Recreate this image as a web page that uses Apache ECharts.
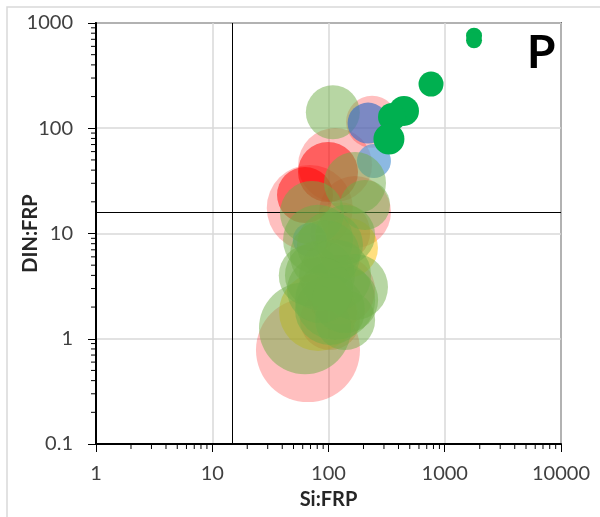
<!DOCTYPE html>
<html><head><meta charset="utf-8">
<script src="https://cdn.jsdelivr.net/npm/echarts@6/dist/echarts.min.js"></script>
<style>html,body{margin:0;padding:0;background:#fff}#c{width:600px;height:517px}</style>
</head><body><div id="c"></div>
<script>
// ---- data (Si:FRP, DIN:FRP, bubble value) ----
const xRange = [1, 10000];
const yRange = [0.1, 1000];
const refSi = 15;   // vertical reference line (Si:FRP)
const refN = 16;    // horizontal reference line (DIN:FRP)
const minorMult = [2, 3, 4, 5, 6, 7, 8, 9];

const pinkX = [237, 114, 69, 169, 66.6, 126];
const pinkY = [115, 44.8, 17.5, 16.0, 0.78, 2.9];
const pinkV = [26, 37, 43, 36, 52, 35];

const redX = [99, 62.8];
const redY = [38.4, 23.2];
const redV = [30, 28];

const yellowX = [147, 81.3];
const yellowY = [7.3, 1.8];
const yellowV = [30, 39];

const orangeX = [126, 103];
const orangeY = [10.3, 1.51];
const orangeV = [30, 30];

const blueX = [219];
const blueY = [112];
const blueV = [20.5];

const lblueX = [246, 69];
const lblueY = [48.9, 8.7];
const lblueV = [17, 17];

const lgreenX = [109, 169, 72.1, 206, 81.3, 139, 93.3, 69, 84.5, 169, 114, 103, 139, 62.8, 103, 114, 139, 84.5];
const lgreenY = [142, 30.2, 15.7, 18.7, 8.7, 9.7, 6.25, 4.0, 4.0, 3.1, 2.33, 1.88, 1.51, 1.26, 7.8, 4.0, 2.33, 2.9];
const lgreenV = [27, 31, 32, 25, 35, 30, 35, 31, 35, 33, 40, 35, 30, 46, 33, 36, 33, 33];

const greenX = [1786, 1786, 762, 446, 352, 331];
const greenY = [757, 685, 263, 146, 128, 79];
const greenV = [8, 8, 12.5, 15, 14, 15.5];

const BUBBLE_SCALE = 2;
function pts(xs, ys, vs) { return xs.map((x, i) => [x, ys[i], vs[i]]); }
function bubble(name, xs, ys, vs, color, opacity, z) {
  return { name, type: 'scatter', data: pts(xs, ys, vs), symbolSize: d => d[2] * BUBBLE_SCALE,
    itemStyle: { color, opacity }, z, silent: true };
}

const chart = echarts.init(document.getElementById('c'), null, { renderer: 'canvas' });
const FONT = 'Lato';
const axisCommon = {
  type: 'log', logBase: 10,
  axisLine: { show: true, lineStyle: { color: '#000', width: 2 } },
  axisTick: { show: true, length: 8, lineStyle: { color: '#000', width: 1 } },
  splitLine: { show: true, lineStyle: { color: '#D9D9D9', width: 1.5 } },
  axisLabel: { fontFamily: FONT, fontSize: 20, color: '#404040', formatter: v => String(v) },
  nameLocation: 'middle', nameMoveOverlap: false,
  nameTextStyle: { fontFamily: FONT, fontSize: 20, fontWeight: 'bold', color: '#262626' }
};
chart.setOption({
  animation: false,
  grid: { left: 96, right: 39, top: 23, bottom: 73, containLabel: false, outerBoundsMode: 'none',
    show: true, borderColor: '#000', borderWidth: 1.5, backgroundColor: 'transparent' },
  xAxis: Object.assign({}, axisCommon, { min: xRange[0], max: xRange[1], name: 'Si:FRP', nameGap: 46,
    axisLabel: Object.assign({}, axisCommon.axisLabel, { margin: 20 }) }),
  yAxis: Object.assign({}, axisCommon, { min: yRange[0], max: yRange[1], name: 'DIN:FRP', nameGap: 55,
    axisLabel: Object.assign({}, axisCommon.axisLabel, { margin: 23 }) }),
  series: [
    bubble('pink', pinkX, pinkY, pinkV, '#FF0000', 0.25, 2),
    bubble('red', redX, redY, redV, '#FF0000', 0.5, 3),
    bubble('yellow', yellowX, yellowY, yellowV, '#FFC000', 0.5, 4),
    bubble('orange', orangeX, orangeY, orangeV, '#ED7D31', 0.45, 4),
    bubble('lightblue', lblueX, lblueY, lblueV, '#5B9BD5', 0.7, 5),
    bubble('lightgreen', lgreenX, lgreenY, lgreenV, '#70AD47', 0.5, 6),
    bubble('blue', blueX, blueY, blueV, '#4472C4', 0.7, 7),
    bubble('green', greenX, greenY, greenV, '#00B050', 1, 8),
    { type: 'line', data: [], z: 10, silent: true,
      markLine: { silent: true, symbol: 'none', animation: false, label: { show: false },
        lineStyle: { color: '#000', width: 1, type: 'solid' },
        data: [{ xAxis: refSi }, { yAxis: refN }] } }
  ]
});

// minor ticks (2..9 per decade) placed through the axis scales
const els = [];
const yBase = chart.convertToPixel({ yAxisIndex: 0 }, yRange[0]);
const xBase = chart.convertToPixel({ xAxisIndex: 0 }, xRange[0]);
for (let e = Math.log10(xRange[0]); e < Math.log10(xRange[1]); e++) {
  minorMult.forEach(m => {
    const px = chart.convertToPixel({ xAxisIndex: 0 }, m * Math.pow(10, e));
    els.push({ type: 'line', silent: true, z: 20, shape: { x1: px, y1: yBase, x2: px, y2: yBase + 5 }, style: { stroke: '#000', lineWidth: 1 } });
  });
}
for (let e = Math.round(Math.log10(yRange[0])); e < Math.log10(yRange[1]); e++) {
  minorMult.forEach(m => {
    const py = chart.convertToPixel({ yAxisIndex: 0 }, m * Math.pow(10, e));
    els.push({ type: 'line', silent: true, z: 20, shape: { x1: xBase - 5, y1: py, x2: xBase, y2: py }, style: { stroke: '#000', lineWidth: 1 } });
  });
}
els.push({ type: 'rect', silent: true, z: -1, shape: { x: 7, y: 7, width: 640, height: 560 }, style: { fill: 'none', stroke: '#D9D9D9', lineWidth: 1.5 } });
els.push({ type: 'text', silent: true, z: 20, x: 527, y: 30, style: { text: 'P', font: 'bold 46px Lato', fill: '#000', verticalAlign: 'top' } });
chart.setOption({ graphic: els });
</script></body></html>
